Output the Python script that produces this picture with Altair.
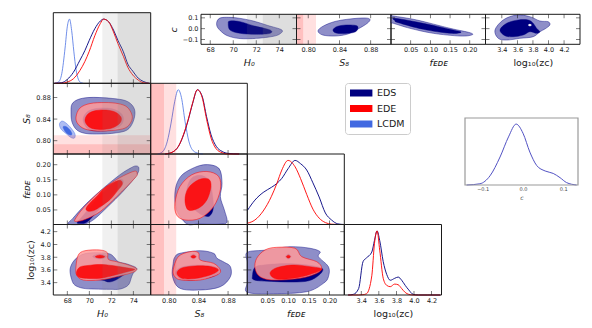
import altair as alt
import pandas as pd

# ---------------- values ----------------
MODELS = ["EDS", "EDE", "LCDM"]
MODEL_COLORS = ["#000080", "#ff0000", "#4169e1"]

H0_TICKS = [68, 70, 72, 74]
S8_TICKS = [0.80, 0.84, 0.88]
F_TICKS = [0.05, 0.10, 0.15, 0.20]
L_TICKS = [3.4, 3.6, 3.8, 4.0, 4.2]
C_TICKS = [-0.1, 0.0, 0.1]

H0_BANDS = [[71.19, 76.5], [72.57, 76.5]]
S8_BANDS = [[0.74, 0.810], [0.74, 0.7935]]

# 1D marginals (normalised to peak 1)
H0_GRID = [66.85, 67.5, 68.0, 68.55, 69.15, 69.6, 70.0, 70.5, 71.0, 71.3, 71.75, 72.2, 72.6, 73.1, 73.5, 73.95, 74.45, 74.9, 75.45]
H0_EDS = [0.0, 0.01, 0.06, 0.17, 0.36, 0.51, 0.67, 0.85, 0.97, 1.0, 0.96, 0.83, 0.67, 0.49, 0.30, 0.19, 0.08, 0.03, 0.0]
H0_EDE = [0.0, 0.0, 0.02, 0.07, 0.20, 0.34, 0.50, 0.74, 0.93, 1.0, 0.96, 0.80, 0.62, 0.42, 0.25, 0.13, 0.05, 0.01, 0.0]
H0_LCDM_GRID = [66.85, 67.2, 67.5, 67.8, 68.0, 68.2, 68.4, 68.6, 68.8, 69.0, 69.2, 69.45]
H0_LCDM = [0.0, 0.02, 0.15, 0.55, 0.88, 1.0, 0.82, 0.49, 0.21, 0.065, 0.015, 0.0]
S8_GRID = [0.795, 0.805, 0.813, 0.82, 0.826, 0.832, 0.8386, 0.845, 0.851, 0.857, 0.864, 0.872, 0.88, 0.895]
S8_EDS = [0.0, 0.03, 0.12, 0.30, 0.52, 0.78, 1.0, 0.90, 0.58, 0.30, 0.12, 0.04, 0.01, 0.0]
S8_EDE = [0.0, 0.03, 0.12, 0.31, 0.53, 0.79, 1.0, 0.88, 0.54, 0.25, 0.08, 0.02, 0.0, 0.0]
S8_LCDM_GRID = [0.785, 0.792, 0.798, 0.803, 0.808, 0.8127, 0.817, 0.822, 0.827, 0.833, 0.84, 0.846]
S8_LCDM = [0.0, 0.04, 0.20, 0.48, 0.82, 1.0, 0.88, 0.50, 0.20, 0.05, 0.01, 0.0]
F_GRID = [0.002, 0.02, 0.04, 0.06, 0.073, 0.085, 0.10, 0.117, 0.13, 0.145, 0.16, 0.175, 0.19, 0.205, 0.22, 0.235]
F_EDS = [0.22, 0.38, 0.50, 0.58, 0.64, 0.72, 0.87, 1.0, 0.95, 0.85, 0.65, 0.43, 0.18, 0.07, 0.01, 0.0]
F_EDE = [0.02, 0.07, 0.21, 0.44, 0.64, 0.85, 1.0, 0.90, 0.72, 0.47, 0.24, 0.10, 0.03, 0.005, 0.0, 0.0]
L_GRID = [3.25, 3.31, 3.37, 3.42, 3.46, 3.52, 3.55, 3.58, 3.61, 3.65, 3.69, 3.73, 3.78, 3.82, 3.86, 3.90, 3.94, 3.99, 4.05, 4.15, 4.30]
L_EDS = [0.0, 0.01, 0.10, 0.52, 0.58, 0.67, 0.85, 1.0, 0.85, 0.52, 0.32, 0.23, 0.26, 0.28, 0.23, 0.15, 0.08, 0.01, 0.0, 0.0, 0.0]
L_EDE = [0.0, 0.0, 0.0, 0.005, 0.02, 0.30, 0.80, 1.0, 0.70, 0.26, 0.15, 0.13, 0.17, 0.16, 0.10, 0.04, 0.01, 0.0, 0.0, 0.0, 0.0]
C_GRID = [-0.14, -0.107, -0.082, -0.057, -0.036, -0.017, 0.0, 0.017, 0.034, 0.055, 0.075, 0.092, 0.108, 0.133]
C_DENS = [0.0, 0.02, 0.15, 0.46, 0.79, 1.0, 0.85, 0.54, 0.32, 0.23, 0.19, 0.12, 0.04, 0.0]

# 2D credible-region outlines (x, y) in data units; "95" = outer, "68" = inner
EDS95_S8_H0 = [(68.43, 0.8677), (68.97, 0.876), (69.88, 0.8797), (70.97, 0.8797), (72.15, 0.8779), (73.25, 0.8742), (73.88, 0.8659), (74.15, 0.853), (73.97, 0.8345), (73.43, 0.8197), (72.34, 0.8142), (70.97, 0.8124), (69.7, 0.8133), (68.88, 0.8197), (68.43, 0.8345), (68.34, 0.853)]
EDS68_S8_H0 = [(69.43, 0.8382), (69.79, 0.853), (70.61, 0.8594), (71.61, 0.8603), (72.52, 0.8557), (73.06, 0.8456), (72.97, 0.8308), (72.15, 0.8207), (70.88, 0.8179), (69.88, 0.8216)]
EDE95_S8_H0 = [(68.79, 0.8437), (69.15, 0.8603), (70.06, 0.8686), (71.43, 0.8705), (72.61, 0.8686), (73.43, 0.8622), (73.88, 0.8474), (73.79, 0.8345), (73.25, 0.8234), (72.06, 0.8188), (70.7, 0.8179), (69.61, 0.8216), (68.97, 0.8308)]
EDE68_S8_H0 = [(69.61, 0.8363), (69.88, 0.8493), (70.61, 0.8557), (71.52, 0.8566), (72.34, 0.853), (72.88, 0.8437), (72.79, 0.8327), (72.06, 0.8234), (70.97, 0.8207), (70.06, 0.8244)]
LCDM95_S8_H0 = [(67.29, 0.8308), (67.52, 0.8363), (67.88, 0.8327), (68.34, 0.8234), (68.7, 0.8124), (68.65, 0.805), (68.34, 0.8059), (67.88, 0.8133), (67.43, 0.8216)]
LCDM68_S8_H0 = [(67.61, 0.8253), (67.88, 0.8262), (68.25, 0.8197), (68.43, 0.8124), (68.25, 0.8105), (67.88, 0.8151)]

EDS95_F_H0 = [(68.1, 0.003), (68.5, 0.022), (69.76, 0.072), (71.27, 0.122), (72.79, 0.167), (73.7, 0.188), (74.2, 0.196), (74.5, 0.19), (74.3, 0.165), (73.1, 0.113), (71.6, 0.058), (70.4, 0.018), (69.5, 0.003)]
EDS68_F_H0 = [(68.9, 0.008), (69.4, 0.03), (70.3, 0.07), (71.3, 0.11), (72.3, 0.142), (72.9, 0.152), (73.1, 0.14), (72.5, 0.115), (71.6, 0.08), (70.6, 0.04), (69.8, 0.01), (69.2, 0.005)]
EDE95_F_H0 = [(68.7, 0.018), (69.45, 0.056), (70.97, 0.111), (72.49, 0.151), (73.6, 0.172), (74.2, 0.179), (74.35, 0.17), (74.15, 0.156), (72.49, 0.094), (70.97, 0.044), (69.6, 0.018), (68.85, 0.012)]
EDE68_F_H0 = [(69.7, 0.055), (70.1, 0.075), (70.8, 0.1), (71.5, 0.126), (72.3, 0.143), (72.85, 0.148), (73.0, 0.135), (72.6, 0.115), (71.9, 0.085), (71.1, 0.063), (70.4, 0.048), (69.9, 0.046)]

EDS95_F_S8 = [(0.8082, 0.106), (0.813, 0.150), (0.8241, 0.1777), (0.8468, 0.200), (0.8673, 0.189), (0.8719, 0.139), (0.8696, 0.094), (0.875, 0.050), (0.8787, 0.011), (0.8696, 0.003), (0.840, 0.003), (0.8241, 0.004), (0.8105, 0.050)]
EDS68_F_S8 = [(0.8225, 0.085), (0.826, 0.135), (0.833, 0.16), (0.845, 0.164), (0.855, 0.145), (0.859, 0.1), (0.86, 0.055), (0.855, 0.03), (0.846, 0.032), (0.835, 0.05), (0.826, 0.065)]
EDE95_F_S8 = [(0.8082, 0.0724), (0.815, 0.1277), (0.831, 0.1667), (0.8514, 0.1777), (0.8673, 0.161), (0.8696, 0.1167), (0.8604, 0.061), (0.8423, 0.0224), (0.8218, 0.0167), (0.8105, 0.0334)]
EDE68_F_S8 = [(0.8218, 0.0834), (0.8263, 0.1224), (0.84, 0.150), (0.8536, 0.1524), (0.8569, 0.1277), (0.8514, 0.0834), (0.84, 0.0557), (0.8263, 0.050)]

EDS95_L_H0 = [(68.25, 3.60), (68.5, 3.72), (69.0, 3.808), (69.76, 3.861), (70.9, 3.87), (71.88, 3.85), (72.3, 3.79), (72.64, 3.729), (73.5, 3.69), (74.31, 3.626), (74.0, 3.55), (73.85, 3.494), (73.55, 3.364), (72.8, 3.30), (71.88, 3.296), (70.5, 3.30), (69.45, 3.312), (68.7, 3.36), (68.4, 3.45)]
EDS68_L_H0 = [(68.9, 3.57), (69.2, 3.64), (70.0, 3.665), (71.0, 3.68), (72.1, 3.665), (73.3, 3.63), (74.0, 3.6), (73.3, 3.54), (72.5, 3.45), (71.8, 3.41), (71.2, 3.44), (70.0, 3.46), (69.2, 3.48)]
EDS68_L_H0_ISLAND = [(70.3, 3.81), (70.97, 3.85), (71.6, 3.81), (70.97, 3.77)]
EDE95_L_H0 = [(68.79, 3.651), (69.0, 3.835), (69.61, 3.902), (70.97, 3.913), (71.64, 3.871), (71.73, 3.767), (72.49, 3.729), (73.55, 3.678), (74.31, 3.615), (73.85, 3.557), (72.49, 3.494), (70.97, 3.442), (69.45, 3.442), (68.85, 3.521)]
EDE68_L_H0 = [(68.84, 3.568), (69.15, 3.646), (69.88, 3.67), (70.97, 3.686), (72.06, 3.67), (73.25, 3.638), (74.15, 3.607), (73.34, 3.568), (72.34, 3.521), (70.97, 3.469), (69.61, 3.469), (68.97, 3.497)]
EDE68_L_H0_ISLAND = [(70.55, 3.808), (70.97, 3.832), (71.4, 3.808), (70.97, 3.786)]

EDS95_L_S8 = [(0.8059, 3.704), (0.808, 3.80), (0.815, 3.861), (0.8423, 3.902), (0.8604, 3.861), (0.8651, 3.783), (0.875, 3.72), (0.8832, 3.651), (0.8832, 3.494), (0.8696, 3.337), (0.8423, 3.285), (0.815, 3.312), (0.805, 3.494)]
EDS68_L_S8 = [(0.809, 3.55), (0.816, 3.64), (0.835, 3.675), (0.857, 3.665), (0.869, 3.6), (0.862, 3.51), (0.84, 3.45), (0.818, 3.45)]
EDS68_L_S8_ISLAND = [(0.829, 3.81), (0.8332, 3.85), (0.8375, 3.81), (0.8332, 3.77)]
EDE95_L_S8 = [(0.8059, 3.599), (0.8127, 3.808), (0.8286, 3.886), (0.84, 3.871), (0.8423, 3.756), (0.8604, 3.704), (0.8696, 3.599), (0.8651, 3.521), (0.8423, 3.442), (0.8173, 3.442), (0.8082, 3.494)]
EDE68_L_S8 = [(0.8109, 3.552), (0.8177, 3.631), (0.8355, 3.662), (0.8559, 3.654), (0.8669, 3.599), (0.8559, 3.521), (0.8355, 3.466), (0.8177, 3.469)]
EDE68_L_S8_ISLAND = [(0.830, 3.808), (0.8332, 3.83), (0.8365, 3.808), (0.8332, 3.786)]

EDS95_L_F = [(0.0017, 3.249), (0.0017, 3.40), (0.0017, 3.56), (0.0017, 3.72), (0.0017, 3.877), (0.0486, 3.913), (0.1048, 3.965), (0.1531, 3.94), (0.1773, 3.886), (0.1732, 3.808), (0.1974, 3.651), (0.1974, 3.494), (0.1853, 3.39), (0.1452, 3.259), (0.0645, 3.227)]
EDS68_L_F = [(0.014, 3.5), (0.02, 3.64), (0.045, 3.68), (0.1, 3.7), (0.155, 3.67), (0.183, 3.62), (0.175, 3.52), (0.15, 3.43), (0.11, 3.41), (0.06, 3.42), (0.03, 3.43), (0.016, 3.45)]
EDS68_L_F_ISLAND = [(0.094, 3.81), (0.1008, 3.85), (0.1075, 3.81), (0.1008, 3.77)]
EDE95_L_F = [(0.0244, 3.783), (0.0445, 3.913), (0.0727, 3.955), (0.1169, 3.94), (0.1331, 3.808), (0.1693, 3.729), (0.1814, 3.626), (0.1693, 3.547), (0.129, 3.469), (0.0645, 3.442), (0.0324, 3.494), (0.0203, 3.626)]
EDE68_L_F = [(0.0565, 3.547), (0.0727, 3.635), (0.1128, 3.678), (0.1531, 3.651), (0.1814, 3.615), (0.1611, 3.547), (0.121, 3.478), (0.0727, 3.458)]
EDE68_L_F_ISLAND = [(0.096, 3.808), (0.1008, 3.83), (0.1056, 3.808), (0.1008, 3.786)]

EDS95_C_H0 = [(68.6, 0.02), (68.6, 0.07), (68.9, 0.1), (69.6, 0.105), (70.5, 0.097), (71.75, 0.071), (73.0, 0.03), (74.2, -0.01), (74.1, -0.045), (73.5, -0.07), (72.04, -0.089), (70.59, -0.091), (69.57, -0.068), (69.0, -0.03)]
EDS68_C_H0 = [(69.57, 0.05), (69.72, 0.0713), (70.59, 0.065), (71.75, 0.0278), (73.2, -0.012), (73.2, -0.0426), (72.04, -0.052), (70.59, -0.0426), (69.72, -0.012)]
EDS95_C_S8 = [(0.8125, -0.02), (0.8195, 0.025), (0.8343, 0.0667), (0.8535, 0.0898), (0.8727, 0.099), (0.8791, 0.085), (0.8753, 0.048), (0.8637, -0.003), (0.8509, -0.049), (0.8343, -0.0676), (0.8185, -0.058)]
EDS68_C_S8 = [(0.8317, -0.012), (0.8369, 0.0204), (0.8484, 0.0343), (0.8612, 0.0296), (0.8637, 0.0065), (0.8599, -0.0306), (0.8471, -0.0444), (0.8356, -0.0398)]
EDS95_C_F = [(0.0, 0.122), (0.0058, 0.1176), (0.0652, 0.0806), (0.1497, 0.0037), (0.2005, -0.037), (0.2048, -0.0583), (0.1751, -0.0676), (0.1074, -0.0426), (0.0482, 0.0037), (0.0058, 0.05), (0.0, 0.0528), (0.0, 0.09)]
EDS68_C_F = [(0.0102, 0.0963), (0.082, 0.05), (0.1497, -0.0056), (0.178, -0.032), (0.1497, -0.0426), (0.082, -0.0056), (0.0185, 0.0556), (0.0102, 0.074)]
EDS95_C_L = [(3.312, -0.012), (3.418, 0.0806), (3.59, 0.127), (3.76, 0.111), (3.889, 0.0713), (3.995, 0.0648), (4.017, 0.0343), (3.953, -0.0028), (3.889, -0.0278), (3.803, -0.074), (3.632, -0.089), (3.462, -0.1046), (3.354, -0.089)]
EDS68_C_L = [(3.376, -0.012), (3.462, 0.05), (3.61, 0.0806), (3.739, 0.0806), (3.803, 0.05), (3.846, 0.0037), (3.889, -0.0278), (3.846, -0.0426), (3.76, -0.0278), (3.675, -0.058), (3.546, -0.074), (3.44, -0.065)]
HOLE_C_L = [(3.735, 0.034), (3.76, 0.046), (3.785, 0.034), (3.76, 0.022)]

# ---------------- layout (pixels inside the plot area) ----------------
W, H = 576, 312
COLX = [45.3, 142.7, 239.3, 336.3, 433.5]
ROWY = [4.7, 75.3, 146.0, 216.5, 287.0]
TOPX = [193.0, 288.5, 383.0, 477.5, 572.0]
TOPY = [6.3, 36.3]
INSET_X = [457.0, 570.0]
INSET_Y = [110.0, 177.0]
LEGEND_XY = [337, 75]

LOW_DOM = {"H0": [66.73, 75.58], "S8": [0.7755, 0.906], "F": [0.0017, 0.2357], "L": [3.207, 4.313]}
TOP_DOM = {"H0": [67.2, 75.5], "S8": [0.785, 0.906], "F": [0.0, 0.24], "L": [3.19, 4.405]}
C_DOM_TOP = [-0.144, 0.133]
C_DOM_INSET = [-0.144, 0.1365]
P_DOM = [0.0, 1.1]

NAMES = ["H0", "S8", "F", "L"]
TICKS = {"H0": H0_TICKS, "S8": S8_TICKS, "F": F_TICKS, "L": L_TICKS}
FMT = {"H0": "d", "S8": ".2f", "F": ".2f", "L": ".1f"}
TITLE = {"H0": "H₀", "S8": "S₈", "F": "fᴇᴅᴇ", "L": "log₁₀(zᴄ)"}
ITALIC = {"H0": True, "S8": True, "F": True, "L": False}

FONT = "DejaVu Sans"
INK = "#1a1a1a"
EDS95_FILL, EDS68_FILL = "#8e8ec8", "#000080"
EDE95_FILL, EDE68_FILL = "#ff9a9a", "#ff0000"
LCDM95_FILL, LCDM68_FILL = "#aebdf3", "#4169e1"
GRAY_OPS = [0.12, 0.16]
PINK_OPS = [0.12, 0.14]
TL = 4


def sc(dom, rng):
    return alt.Scale(domain=list(dom), range=list(rng), nice=False, zero=False)


def panel(xd, yd, xr, yr):
    return {"xd": xd, "yd": yd, "xr": xr, "yr": yr}


def xy(p, xaxis=None, yaxis=None):
    return {"x": alt.X("x:Q", scale=sc(p["xd"], p["xr"]), axis=xaxis),
            "y": alt.Y("y:Q", scale=sc(p["yd"], p["yr"]), axis=yaxis)}


def polys(p, shapes, fill, stroke, fo=1.0, sw=0.6):
    rows = []
    for k, pts in enumerate(shapes):
        for i, (a, b) in enumerate(pts):
            rows.append({"x": a, "y": b, "k": k, "i": i})
    return alt.Chart(pd.DataFrame(rows)).mark_line(
        interpolate="cardinal-closed", fill=fill, fillOpacity=fo, stroke=stroke,
        strokeWidth=sw, strokeOpacity=0.85).encode(order="i:Q", detail="k:N", **xy(p))


def curve(p, xs, ys, color, op=1.0, sw=1.0):
    df = pd.DataFrame({"x": xs, "y": ys})
    return alt.Chart(df).mark_line(color=color, strokeWidth=sw, opacity=op,
                                   interpolate="monotone").encode(**xy(p))


def vbands(p, bands, color, ops):
    out = []
    for (lo, hi), op in zip(bands, ops):
        df = pd.DataFrame([{"x": max(lo, p["xd"][0]), "x2": min(hi, p["xd"][1]),
                            "y": p["yd"][0], "y2": p["yd"][1]}])
        out.append(alt.Chart(df).mark_rect(color=color, opacity=op).encode(x2="x2:Q", y2="y2:Q", **xy(p)))
    return out


def hbands(p, bands, color, ops):
    out = []
    for (lo, hi), op in zip(bands, ops):
        df = pd.DataFrame([{"x": p["xd"][0], "x2": p["xd"][1],
                            "y": max(lo, p["yd"][0]), "y2": min(hi, p["yd"][1])}])
        out.append(alt.Chart(df).mark_rect(color=color, opacity=op).encode(x2="x2:Q", y2="y2:Q", **xy(p)))
    return out


def ticks(p, xt=None, yt=None, top=True):
    out = []
    if xt:
        edges = [(p["yd"][0], -TL / 2)] + ([(p["yd"][1], TL / 2)] if top else [])
        for yv, off in edges:
            df = pd.DataFrame({"x": xt, "y": [yv] * len(xt)})
            out.append(alt.Chart(df).mark_tick(orient="vertical", size=TL, thickness=0.8,
                                               color=INK, yOffset=off).encode(**xy(p)))
    if yt:
        for xv, off in [(p["xd"][0], TL / 2), (p["xd"][1], -TL / 2)]:
            df = pd.DataFrame({"x": [xv] * len(yt), "y": yt})
            out.append(alt.Chart(df).mark_tick(orient="horizontal", size=TL, thickness=0.8,
                                               color=INK, xOffset=off).encode(**xy(p)))
    return out


def frame(p, xaxis=None, yaxis=None, color=INK, sw=1.0):
    df = pd.DataFrame([{"x": p["xd"][0], "x2": p["xd"][1], "y": p["yd"][0], "y2": p["yd"][1]}])
    return alt.Chart(df).mark_rect(filled=False, stroke=color, strokeWidth=sw).encode(
        x2="x2:Q", y2="y2:Q", **xy(p, xaxis, yaxis))


def axis_kw(title, italic, lsize, tsize, lpad, tpad, color):
    kw = dict(title=title, ticks=False, domain=False, grid=False, labelFontSize=lsize,
              titleFontSize=tsize, labelPadding=lpad, titlePadding=tpad, labelFlush=False,
              labelOverlap=False, labelColor=color, titleColor=color, titleFontWeight="normal")
    if italic:
        kw["titleFontStyle"] = "italic"
    return kw


def ax_bottom(p, vals, fmt, title, italic=True, lsize=6.5, tsize=9.5, lpad=2.5, tpad=4.5, color=INK):
    return alt.Axis(orient="bottom", offset=p["yr"][0] - H, values=vals, format=fmt,
                    **axis_kw(title, italic, lsize, tsize, lpad, tpad, color))


def ax_left(p, vals, fmt, title, italic=True, lsize=6.5, tsize=9.5, lpad=3, tpad=4, color=INK):
    return alt.Axis(orient="left", offset=-p["xr"][0], values=vals, format=fmt,
                    **axis_kw(title, italic, lsize, tsize, lpad, tpad, color))


def contour_layers(p, eds95, eds68, ede95=None, ede68=None):
    out = [polys(p, eds95, EDS95_FILL, "#000080", 1.0, 0.5),
           polys(p, eds68, EDS68_FILL, "#000080", 1.0, 0.5)]
    if ede95:
        out.append(polys(p, ede95, EDE95_FILL, "#ff0000", 0.85, 0.6))
        out.append(polys(p, ede68, EDE68_FILL, "#ff0000", 0.85, 0.5))
    return out


def lowp(i, j):
    yd = P_DOM if i == j else LOW_DOM[NAMES[i]]
    return panel(LOW_DOM[NAMES[j]], yd, [COLX[j], COLX[j + 1]], [ROWY[i + 1], ROWY[i]])


layers = []

# ---- lower-triangle 2D panels ----
CONT = {
    (1, 0): ([EDS95_S8_H0], [EDS68_S8_H0], [EDE95_S8_H0], [EDE68_S8_H0]),
    (2, 0): ([EDS95_F_H0], [EDS68_F_H0], [EDE95_F_H0], [EDE68_F_H0]),
    (3, 0): ([EDS95_L_H0], [EDS68_L_H0, EDS68_L_H0_ISLAND], [EDE95_L_H0], [EDE68_L_H0, EDE68_L_H0_ISLAND]),
    (2, 1): ([EDS95_F_S8], [EDS68_F_S8], [EDE95_F_S8], [EDE68_F_S8]),
    (3, 1): ([EDS95_L_S8], [EDS68_L_S8, EDS68_L_S8_ISLAND], [EDE95_L_S8], [EDE68_L_S8, EDE68_L_S8_ISLAND]),
    (3, 2): ([EDS95_L_F], [EDS68_L_F, EDS68_L_F_ISLAND], [EDE95_L_F], [EDE68_L_F, EDE68_L_F_ISLAND]),
}
for (i, j), (a, b, c, d) in CONT.items():
    p = lowp(i, j)
    layers += contour_layers(p, a, b, c, d)
    if (i, j) == (1, 0):
        layers.append(polys(p, [LCDM95_S8_H0], LCDM95_FILL, "#4169e1", 1.0, 0.5))
        layers.append(polys(p, [LCDM68_S8_H0], LCDM68_FILL, "#4169e1", 1.0, 0.5))
        layers += hbands(p, S8_BANDS, "red", PINK_OPS)
    if j == 0:
        layers += vbands(p, H0_BANDS, "gray", GRAY_OPS)
    if j == 1:
        layers += vbands(p, S8_BANDS, "red", PINK_OPS)
    layers += ticks(p, TICKS[NAMES[j]], TICKS[NAMES[i]])
    xa = ax_bottom(p, TICKS[NAMES[j]], FMT[NAMES[j]], TITLE[NAMES[j]], ITALIC[NAMES[j]]) if i == 3 else None
    ya = ax_left(p, TICKS[NAMES[i]], FMT[NAMES[i]], TITLE[NAMES[i]], ITALIC[NAMES[i]]) if j == 0 else None
    layers.append(frame(p, xa, ya))

# ---- diagonal 1D panels ----
ONE_D = {
    0: [(H0_LCDM_GRID, H0_LCDM, "#4169e1", 0.75), (H0_GRID, H0_EDS, "#000080", 0.9), (H0_GRID, H0_EDE, "#ff0000", 0.9)],
    1: [(S8_LCDM_GRID, S8_LCDM, "#4169e1", 0.75), (S8_GRID, S8_EDS, "#000080", 0.9), (S8_GRID, S8_EDE, "#ff0000", 0.9)],
    2: [(F_GRID, F_EDS, "#000080", 0.9), (F_GRID, F_EDE, "#ff0000", 0.9)],
    3: [(L_GRID, L_EDS, "#000080", 0.9), (L_GRID, L_EDE, "#ff0000", 0.9)],
}
for k, series in ONE_D.items():
    p = lowp(k, k)
    for xs, ys, col, op in series:
        layers.append(curve(p, xs, ys, col, op))
    if k == 0:
        layers += vbands(p, H0_BANDS, "gray", GRAY_OPS)
    if k == 1:
        layers += vbands(p, S8_BANDS, "red", PINK_OPS)
    layers += ticks(p, TICKS[NAMES[k]], None, top=False)
    xa = ax_bottom(p, TICKS[NAMES[k]], FMT[NAMES[k]], TITLE[NAMES[k]], ITALIC[NAMES[k]]) if k == 3 else None
    layers.append(frame(p, xa, None))

# ---- top row: c against each parameter ----
TOP_CONT = {
    "H0": ([EDS95_C_H0], [EDS68_C_H0]),
    "S8": ([EDS95_C_S8], [EDS68_C_S8]),
    "F": ([EDS95_C_F], [EDS68_C_F]),
    "L": ([EDS95_C_L], [EDS68_C_L]),
}
for k, n in enumerate(NAMES):
    p = panel(TOP_DOM[n], C_DOM_TOP, [TOPX[k], TOPX[k + 1]], [TOPY[1], TOPY[0]])
    a, b = TOP_CONT[n]
    layers += contour_layers(p, a, b)
    if n == "L":
        layers.append(polys(p, [HOLE_C_L], "white", "#000080", 1.0, 0.3))
    if n == "H0":
        layers += vbands(p, H0_BANDS, "gray", GRAY_OPS)
    if n == "S8":
        layers += vbands(p, S8_BANDS, "red", PINK_OPS)
    layers += ticks(p, TICKS[n], C_TICKS)
    xa = ax_bottom(p, TICKS[n], FMT[n], TITLE[n], ITALIC[n])
    ya = ax_left(p, C_TICKS, ".1f", "c", True) if k == 0 else None
    layers.append(frame(p, xa, ya))

# ---- inset: 1D marginal of c ----
pin = panel(C_DOM_INSET, P_DOM, INSET_X, [INSET_Y[1], INSET_Y[0]])
layers.append(curve(pin, C_GRID, C_DENS, "#5252c4", 1.0, 1.0))
layers.append(frame(pin, ax_bottom(pin, C_TICKS, ".1f", "c", True, lsize=5, tsize=6, lpad=1.5, tpad=2.5, color="#444444"),
                    None, color="#9a9a9a", sw=1.2))

# ---- legend ----
legend_layer = alt.Chart(pd.DataFrame({"model": MODELS})).mark_square(size=0).encode(
    color=alt.Color("model:N", scale=alt.Scale(domain=MODELS, range=MODEL_COLORS),
                    legend=alt.Legend(title=None, orient="none", legendX=LEGEND_XY[0], legendY=LEGEND_XY[1],
                                      symbolType="M-1,-0.7H3.48V0.7H-1Z", symbolSize=100,
                                      symbolStrokeWidth=0, symbolOpacity=1, labelFontSize=9.5,
                                      labelFont=FONT, labelColor=INK, labelOffset=17, rowPadding=5.5,
                                      padding=5, strokeColor="#cccccc", fillColor="white",
                                      cornerRadius=3)))
layers.append(legend_layer)

chart = alt.layer(*layers).resolve_scale(x="independent", y="independent").properties(
    width=W, height=H, padding=0, autosize=alt.AutoSizeParams(type="none")
).configure_view(strokeWidth=0).configure_axis(labelFont=FONT, titleFont=FONT)

chart.save("out.html", embed_options={"renderer": "svg", "actions": False})
